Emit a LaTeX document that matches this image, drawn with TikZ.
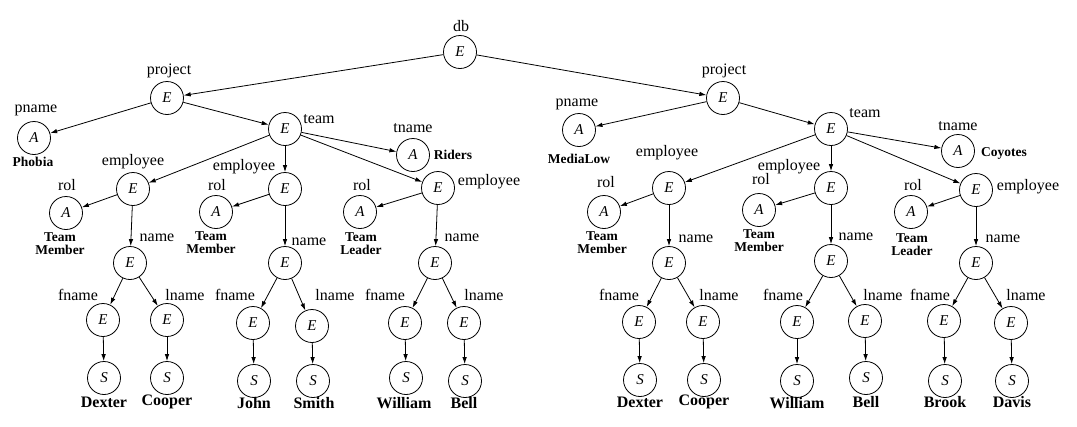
\documentclass[tikz,border=0pt]{standalone}
\usepackage{fontspec}
\setmainfont{Liberation Serif}
\usetikzlibrary{arrows.meta}

\begin{document}
\begin{tikzpicture}[x=1pt, y=-1pt,
    ent/.style={circle, draw, line width=0.8pt, minimum size=33pt, inner sep=0pt, font=\fontsize{15}{15}\selectfont\itshape},
    tag/.style={font=\fontsize{16}{16}\selectfont, inner sep=0pt},
    val/.style={font=\fontsize{13.5}{13}\selectfont\bfseries, align=center, inner sep=0pt},
    leaf/.style={font=\fontsize{16}{16}\selectfont\bfseries, inner sep=0pt},
    arr/.style={-{Latex[length=7pt,width=4.5pt]}, line width=0.8pt}]
    \useasboundingbox (0,0) rectangle (1077,426);

    % Root
    \node[ent] (db) at (460,52) {E};
    \node[tag] (db-l) at (461,26) {db};

    % Left project
    \node[ent] (p1) at (167,98) {E};
    \node[ent] (pn1) at (34,138) {A};
    \node[ent] (t1) at (285,129) {E};
    \node[ent] (tn1) at (413,155) {A};
    \node[ent] (e11) at (133,189) {E};
    \node[ent] (e12) at (285,189) {E};
    \node[ent] (e13) at (438,188) {E};
    \node[ent] (r11) at (66,213) {A};
    \node[ent] (r12) at (216,212) {A};
    \node[ent] (r13) at (360,212) {A};
    \node[ent] (n11) at (130,263) {E};
    \node[ent] (n12) at (285,263) {E};
    \node[ent] (n13) at (435,263) {E};
    \node[ent] (f11) at (103,320) {E};
    \node[ent] (l11) at (167,320) {E};
    \node[ent] (f12) at (253,323) {E};
    \node[ent] (l12) at (312,326) {E};
    \node[ent] (f13) at (405,323) {E};
    \node[ent] (l13) at (464,323) {E};
    \node[ent] (fs11) at (104,378) {S};
    \node[ent] (ls11) at (167,378) {S};
    \node[ent] (fs12) at (254,381) {S};
    \node[ent] (ls12) at (313,381) {S};
    \node[ent] (fs13) at (406,378) {S};
    \node[ent] (ls13) at (465,381) {S};

    % Right project
    \node[ent] (p2) at (723,98) {E};
    \node[ent] (pn2) at (579,130) {A};
    \node[ent] (t2) at (831,129) {E};
    \node[ent] (tn2) at (958,151) {A};
    \node[ent] (e21) at (669,188) {E};
    \node[ent] (e22) at (831,188) {E};
    \node[ent] (e23) at (976,190) {E};
    \node[ent] (r21) at (604,212) {A};
    \node[ent] (r22) at (759,210) {A};
    \node[ent] (r23) at (911,212) {A};
    \node[ent] (n21) at (669,263) {E};
    \node[ent] (n22) at (831,261) {E};
    \node[ent] (n23) at (976,263) {E};
    \node[ent] (f21) at (639,322) {E};
    \node[ent] (l21) at (703,322) {E};
    \node[ent] (f22) at (797,322) {E};
    \node[ent] (l22) at (865,321) {E};
    \node[ent] (f23) at (944,321) {E};
    \node[ent] (l23) at (1011,323) {E};
    \node[ent] (fs21) at (640,380) {S};
    \node[ent] (ls21) at (704,380) {S};
    \node[ent] (fs22) at (797,381) {S};
    \node[ent] (ls22) at (866,378) {S};
    \node[ent] (fs23) at (945,381) {S};
    \node[ent] (ls23) at (1012,381) {S};

    % Edges
    \draw[arr] (db) -- (p1);
    \draw[arr] (db) -- (p2);
    \foreach \k in {1,2} {
        \draw[arr] (p\k) -- (pn\k);
        \draw[arr] (p\k) -- (t\k);
        \draw[arr] (t\k) -- (tn\k);
        \foreach \j in {1,2,3} {
            \draw[arr] (t\k) -- (e\k\j);
            \draw[arr] (e\k\j) -- (r\k\j);
            \draw[arr] (e\k\j) -- (n\k\j);
            \draw[arr] (n\k\j) -- (f\k\j);
            \draw[arr] (n\k\j) -- (l\k\j);
            \draw[arr] (f\k\j) -- (fs\k\j);
            \draw[arr] (l\k\j) -- (ls\k\j);
        }
    }

    % Labels, left
    \node[tag] (p1-l) at (169,71) {project};
    \node[tag] (pn1-l) at (36,110) {pname};
    \node[val] (pn1-v) at (33,162) {Phobia};
    \node[tag] (t1-l) at (319,119) {team};
    \node[tag] (tn1-l) at (413,128) {tname};
    \node[val] (tn1-v) at (453,155) {Riders};
    \node[tag] (e11-l) at (133,162) {employee};
    \node[tag] (e12-l) at (244,167) {employee};
    \node[tag] (e13-l) at (489,182) {employee};
    \node[tag] (r11-l) at (67,185) {rol};
    \node[tag] (r12-l) at (217,185) {rol};
    \node[tag] (r13-l) at (362,185) {rol};
    \node[val] (r11-v) at (60,244) {Team\\Member};
    \node[val] (r12-v) at (211,243) {Team\\Member};
    \node[val] (r13-v) at (361,244) {Team\\Leader};
    \node[tag] (n11-l) at (157,238) {name};
    \node[tag] (n12-l) at (309,242) {name};
    \node[tag] (n13-l) at (462,238) {name};
    \node[tag] (f11-l) at (78,295) {fname};
    \node[tag] (l11-l) at (185,295) {lname};
    \node[tag] (f12-l) at (235,295) {fname};
    \node[tag] (l12-l) at (335,295) {lname};
    \node[tag] (f13-l) at (385,295) {fname};
    \node[tag] (l13-l) at (484,295) {lname};
    \node[leaf] (fs11-v) at (104,402) {Dexter};
    \node[leaf] (ls11-v) at (167,402) {Cooper};
    \node[leaf] (fs12-v) at (254,403) {John};
    \node[leaf] (ls12-v) at (314,403) {Smith};
    \node[leaf] (fs13-v) at (404,403) {William};
    \node[leaf] (ls13-v) at (464,403) {Bell};

    % Labels, right
    \node[tag] (p2-l) at (724,71) {project};
    \node[tag] (pn2-l) at (577,104) {pname};
    \node[val] (pn2-v) at (579,159) {MediaLow};
    \node[tag] (t2-l) at (865,113) {team};
    \node[tag] (tn2-l) at (958,126) {tname};
    \node[val] (tn2-v) at (1004,153) {Coyotes};
    \node[tag] (e21-l) at (667,153) {employee};
    \node[tag] (e22-l) at (789,167) {employee};
    \node[tag] (e23-l) at (1028,187) {employee};
    \node[tag] (r21-l) at (606,182) {rol};
    \node[tag] (r22-l) at (761,179) {rol};
    \node[tag] (r23-l) at (913,185) {rol};
    \node[val] (r21-v) at (602,243) {Team\\Member};
    \node[val] (r22-v) at (759,241) {Team\\Member};
    \node[val] (r23-v) at (912,245) {Team\\Leader};
    \node[tag] (n21-l) at (696,239) {name};
    \node[tag] (n22-l) at (856,237) {name};
    \node[tag] (n23-l) at (1003,239) {name};
    \node[tag] (f21-l) at (619,295) {fname};
    \node[tag] (l21-l) at (719,295) {lname};
    \node[tag] (f22-l) at (783,295) {fname};
    \node[tag] (l22-l) at (883,295) {lname};
    \node[tag] (f23-l) at (930,295) {fname};
    \node[tag] (l23-l) at (1026,295) {lname};
    \node[leaf] (fs21-v) at (640,402) {Dexter};
    \node[leaf] (ls21-v) at (704,402) {Cooper};
    \node[leaf] (fs22-v) at (797,403) {William};
    \node[leaf] (ls22-v) at (866,402) {Bell};
    \node[leaf] (fs23-v) at (945,402) {Brook};
    \node[leaf] (ls23-v) at (1012,402) {Davis};
\end{tikzpicture}
\end{document}
